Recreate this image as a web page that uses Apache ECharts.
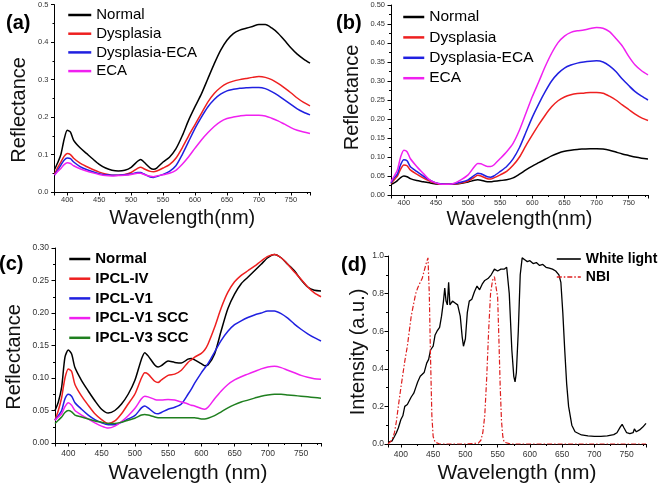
<!DOCTYPE html>
<html><head><meta charset="utf-8">
<script src="https://cdn.jsdelivr.net/npm/echarts@6/dist/echarts.min.js"></script>
<style>html,body{margin:0;padding:0;background:#fff}#c{width:660px;height:488px}</style>
</head><body><div id="c"></div>
<script>
// ---------- data ----------
const WL_AB = [380,385,390,395,400,405,410,420,430,440,450,460,470,480,490,500,510,515,520,530,535,540,550,560,570,580,590,600,610,620,630,640,650,660,670,680,690,700,710,720,730,740,750,760,770,780];

const A_NORMAL = [0.060,0.078,0.100,0.140,0.165,0.160,0.138,0.118,0.103,0.088,0.074,0.064,0.058,0.056,0.058,0.066,0.082,0.087,0.080,0.064,0.061,0.064,0.080,0.093,0.115,0.150,0.192,0.228,0.262,0.302,0.342,0.378,0.405,0.423,0.432,0.437,0.442,0.447,0.447,0.438,0.424,0.405,0.385,0.368,0.355,0.344];
const A_DYSP = [0.048,0.065,0.080,0.095,0.103,0.100,0.090,0.077,0.068,0.060,0.053,0.048,0.045,0.045,0.047,0.052,0.063,0.066,0.062,0.055,0.054,0.056,0.064,0.073,0.090,0.118,0.150,0.180,0.210,0.240,0.263,0.279,0.290,0.296,0.300,0.303,0.306,0.308,0.306,0.300,0.290,0.278,0.265,0.251,0.239,0.230];
const A_DYSP_ECA = [0.045,0.058,0.072,0.085,0.091,0.089,0.080,0.068,0.060,0.054,0.049,0.046,0.045,0.045,0.046,0.048,0.052,0.052,0.048,0.040,0.039,0.041,0.047,0.055,0.070,0.100,0.135,0.170,0.200,0.227,0.247,0.261,0.270,0.274,0.277,0.278,0.279,0.279,0.276,0.268,0.258,0.246,0.234,0.222,0.213,0.206];
const A_ECA = [0.045,0.055,0.063,0.073,0.078,0.076,0.070,0.062,0.056,0.051,0.047,0.044,0.043,0.044,0.045,0.047,0.050,0.050,0.047,0.042,0.041,0.043,0.046,0.050,0.058,0.074,0.094,0.117,0.139,0.158,0.175,0.188,0.196,0.200,0.203,0.205,0.205,0.205,0.203,0.197,0.190,0.181,0.172,0.165,0.160,0.156];

const B_NORMAL = [0.028,0.032,0.038,0.046,0.050,0.048,0.043,0.038,0.035,0.032,0.029,0.028,0.028,0.029,0.031,0.034,0.039,0.040,0.039,0.035,0.035,0.036,0.038,0.040,0.045,0.055,0.066,0.076,0.085,0.094,0.103,0.110,0.115,0.118,0.120,0.121,0.122,0.122,0.121,0.118,0.113,0.108,0.104,0.100,0.097,0.095];
const B_DYSP = [0.030,0.040,0.050,0.068,0.079,0.077,0.066,0.055,0.045,0.037,0.031,0.028,0.028,0.029,0.032,0.037,0.047,0.052,0.050,0.043,0.042,0.045,0.053,0.062,0.078,0.100,0.130,0.158,0.185,0.210,0.232,0.248,0.258,0.264,0.267,0.268,0.270,0.270,0.268,0.260,0.250,0.237,0.225,0.213,0.203,0.196];
const B_DYSP_ECA = [0.032,0.045,0.055,0.080,0.093,0.090,0.075,0.062,0.050,0.040,0.032,0.029,0.028,0.030,0.034,0.040,0.052,0.057,0.056,0.048,0.047,0.050,0.062,0.075,0.095,0.125,0.165,0.205,0.240,0.272,0.300,0.320,0.334,0.342,0.347,0.350,0.352,0.353,0.350,0.340,0.325,0.305,0.288,0.272,0.260,0.250];
const B_ECA = [0.035,0.050,0.066,0.100,0.118,0.114,0.096,0.075,0.057,0.040,0.032,0.028,0.028,0.032,0.041,0.053,0.075,0.083,0.082,0.075,0.075,0.079,0.096,0.114,0.136,0.171,0.215,0.259,0.298,0.338,0.373,0.401,0.418,0.428,0.432,0.434,0.438,0.441,0.439,0.430,0.412,0.392,0.365,0.342,0.327,0.316];

const WL_C = [380,385,390,395,400,405,410,420,430,440,450,460,470,480,490,500,510,515,520,530,535,540,550,560,570,580,585,590,600,605,610,620,630,640,650,660,670,680,690,700,710,720,730,740,750,760,770,780];
const C_NORMAL = [0.050,0.063,0.086,0.132,0.143,0.137,0.116,0.096,0.080,0.065,0.052,0.046,0.050,0.060,0.075,0.096,0.129,0.139,0.134,0.120,0.117,0.119,0.126,0.124,0.123,0.129,0.130,0.128,0.122,0.119,0.120,0.137,0.173,0.207,0.229,0.245,0.255,0.265,0.275,0.285,0.290,0.285,0.275,0.265,0.251,0.240,0.235,0.234];
const C_IPCL_IV = [0.035,0.050,0.070,0.100,0.114,0.110,0.090,0.072,0.058,0.045,0.036,0.030,0.034,0.045,0.060,0.075,0.100,0.108,0.106,0.095,0.093,0.097,0.104,0.106,0.112,0.124,0.128,0.132,0.138,0.143,0.152,0.178,0.208,0.232,0.248,0.258,0.265,0.272,0.280,0.287,0.290,0.285,0.275,0.263,0.252,0.240,0.231,0.225];
const C_IPCL_V1 = [0.035,0.042,0.050,0.068,0.075,0.072,0.062,0.052,0.043,0.036,0.031,0.028,0.028,0.032,0.037,0.042,0.054,0.057,0.054,0.046,0.045,0.047,0.052,0.055,0.060,0.075,0.083,0.092,0.108,0.115,0.122,0.140,0.158,0.172,0.182,0.188,0.193,0.197,0.200,0.203,0.203,0.199,0.192,0.183,0.175,0.168,0.162,0.157];
const C_IPCL_V1_SCC = [0.035,0.040,0.045,0.056,0.062,0.058,0.050,0.043,0.037,0.031,0.026,0.023,0.026,0.033,0.042,0.053,0.068,0.072,0.071,0.067,0.066,0.066,0.067,0.066,0.063,0.060,0.058,0.057,0.053,0.052,0.055,0.068,0.080,0.090,0.097,0.102,0.106,0.110,0.114,0.117,0.118,0.116,0.112,0.108,0.104,0.101,0.099,0.098];
const C_IPCL_V3_SCC = [0.030,0.035,0.040,0.047,0.050,0.048,0.043,0.040,0.037,0.034,0.032,0.030,0.030,0.032,0.035,0.038,0.043,0.044,0.043,0.040,0.039,0.039,0.039,0.039,0.039,0.039,0.039,0.039,0.037,0.037,0.038,0.042,0.048,0.054,0.059,0.063,0.066,0.069,0.072,0.074,0.075,0.075,0.074,0.073,0.072,0.071,0.070,0.069];

const WL_WHITE = [380,383,386,390,393,396,400,403,406,410,413,416,420,423,426,430,433,436,440,443,446,450,453,456,460,463,466,468,470,472,474,476,480,484,488,492,495,497,500,503,506,510,514,518,522,526,530,535,540,545,550,555,560,564,568,572,575,577,579,582,585,588,592,596,600,605,610,615,620,625,630,635,640,645,648,651,654,657,660,665,670,680,690,700,710,720,730,735,740,743,746,750,755,760,762,765,770,775,780];
const D_WHITE = [0.010,0.020,0.015,0.040,0.060,0.085,0.130,0.150,0.200,0.210,0.230,0.250,0.270,0.300,0.330,0.360,0.370,0.380,0.430,0.450,0.500,0.520,0.580,0.600,0.620,0.680,0.760,0.830,0.760,0.740,0.860,0.740,0.760,0.750,0.740,0.680,0.570,0.520,0.560,0.700,0.760,0.770,0.810,0.840,0.820,0.850,0.870,0.880,0.900,0.930,0.920,0.930,0.930,0.940,0.800,0.500,0.360,0.330,0.380,0.600,0.900,0.990,0.980,0.970,0.975,0.960,0.965,0.950,0.955,0.940,0.935,0.930,0.920,0.900,0.860,0.700,0.500,0.320,0.200,0.100,0.065,0.048,0.043,0.041,0.041,0.043,0.050,0.060,0.090,0.105,0.085,0.060,0.055,0.060,0.080,0.065,0.075,0.090,0.110];

const WL_NBI = [380,383,386,390,393,396,400,403,406,410,413,416,420,423,426,430,433,436,440,442,444,446,448,450,453,456,460,480,500,520,524,527,530,533,536,539,542,545,548,550,552,554,556,558,560,570,600,650,700,750,780];
const D_NBI = [0.000,0.010,0.020,0.060,0.120,0.200,0.300,0.370,0.440,0.520,0.600,0.680,0.750,0.800,0.830,0.860,0.880,0.920,0.970,0.990,0.800,0.450,0.150,0.040,0.010,0.005,0.000,0.000,0.000,0.005,0.020,0.060,0.150,0.350,0.600,0.800,0.870,0.890,0.880,0.780,0.550,0.300,0.120,0.040,0.010,0.000,0.000,0.000,0.000,0.000,0.000];

const LEG_AB = ['Normal','Dysplasia','Dysplasia-ECA','ECA'];
const LEG_C = ['Normal','IPCL-IV','IPCL-V1','IPCL-V1 SCC','IPCL-V3 SCC'];
const LEG_D = ['White light','NBI'];

// ---------- styling ----------
const FONT = 'Liberation Sans, Arial, sans-serif';
const BLACK = '#000000', RED = '#ee2020', BLUE = '#2020e0', MAG = '#f020f0', GREEN = '#1f7f1f', DRED = '#dd1f1f';

function pairs(x, y) { return x.map((v, i) => [v, y[i]]); }

function xAx(gi, o) {
  return {
    type: 'value', gridIndex: gi, min: 380, max: 780, splitNumber: 8,
    name: o.name, nameLocation: 'middle', nameGap: o.nameGap,
    nameTextStyle: {fontFamily: FONT, fontSize: o.nameSize, color: '#111'},
    axisLine: {show: true, onZero: false, lineStyle: {color: '#000', width: 1}},
    axisTick: {show: true, inside: false, length: 3.5, lineStyle: {color: '#000'}},
    minorTick: {show: true, splitNumber: 2, length: 2, lineStyle: {color: '#000'}},
    splitLine: {show: false}, minorSplitLine: {show: false},
    axisLabel: {fontFamily: FONT, fontSize: o.labelSize, color: '#333', margin: o.margin,
      formatter: v => (v % 50 === 0 ? String(v) : '')}
  };
}
function yAx(gi, o) {
  return {
    type: 'value', gridIndex: gi, min: 0, max: o.max, interval: o.interval,
    name: o.name, nameLocation: 'middle', nameGap: o.nameGap,
    nameTextStyle: {fontFamily: FONT, fontSize: o.nameSize, color: '#111', padding: o.pad || 0},
    axisLine: {show: true, onZero: false, lineStyle: {color: '#000', width: 1}},
    axisTick: {show: true, inside: false, length: 3.5, lineStyle: {color: '#000'}},
    minorTick: {show: true, splitNumber: 2, length: 2, lineStyle: {color: '#000'}},
    splitLine: {show: false}, minorSplitLine: {show: false},
    axisLabel: {fontFamily: FONT, fontSize: o.labelSize, color: '#333', margin: o.margin,
      formatter: v => v.toFixed(o.dec)}
  };
}
function ln(gi, name, xs, ys, color, width, type) {
  return {
    type: 'line', name: name, xAxisIndex: gi, yAxisIndex: gi, data: pairs(xs, ys),
    symbol: 'none', smooth: type ? false : 0.25, animation: false,
    lineStyle: {color: color, width: width, type: type || 'solid'}, itemStyle: {color: color}
  };
}
function leg(o) {
  return {
    orient: 'vertical', left: o.left, top: o.top, padding: 0,
    itemWidth: o.iw, itemHeight: 12, itemGap: o.gap, data: o.data,
    selectedMode: false,
    itemStyle: {opacity: 0},
    lineStyle: {width: o.lw},
    textStyle: {fontFamily: FONT, fontSize: o.fs, fontWeight: o.bold ? 'bold' : 'normal', color: '#000', lineHeight: 15}
  };
}
function ttl(text, left, top) {
  return {text: text, left: left, top: top, padding: 0,
    textStyle: {fontFamily: FONT, fontSize: 20, fontWeight: 'bold', color: '#000'}};
}

const chart = echarts.init(document.getElementById('c'), null, {renderer: 'canvas'});
chart.setOption({
  backgroundColor: '#fff',
  animation: false,
  title: [ttl('(a)', 6, 13), ttl('(b)', 336, 13), ttl('(c)', -1, 254), ttl('(d)', 341, 255)],
  grid: [
    {left: 54.5, top: 4.7, width: 255.5, height: 187.3},
    {left: 391, top: 5, width: 257, height: 190},
    {left: 55, top: 248, width: 266, height: 195},
    {left: 388, top: 256, width: 258, height: 188}
  ],
  xAxis: [
    xAx(0, {name: 'Wavelength(nm)', nameGap: 16, nameSize: 20, labelSize: 7.5, margin: 4}),
    xAx(1, {name: 'Wavelength(nm)', nameGap: 14, nameSize: 20, labelSize: 7.5, margin: 4}),
    xAx(2, {name: 'Wavelength (nm)', nameGap: 20, nameSize: 21, labelSize: 8.5, margin: 6}),
    xAx(3, {name: 'Wavelength (nm)', nameGap: 19, nameSize: 21, labelSize: 8.5, margin: 6})
  ],
  yAxis: [
    yAx(0, {name: 'Reflectance', max: 0.5, interval: 0.1, dec: 1, nameGap: 25.5, nameSize: 20, labelSize: 7.5, margin: 6, pad: [0, 23, 0, 0]}),
    yAx(1, {name: 'Reflectance', max: 0.5, interval: 0.05, dec: 2, nameGap: 29, nameSize: 20, labelSize: 7.5, margin: 6, pad: [0, 0, 0, 5]}),
    yAx(2, {name: 'Reflectance', max: 0.3, interval: 0.05, dec: 2, nameGap: 31, nameSize: 20, labelSize: 8.5, margin: 6, pad: [0, 23, 0, 0]}),
    yAx(3, {name: 'Intensity (a.u.)', max: 1.0, interval: 0.2, dec: 1, nameGap: 20, nameSize: 20, labelSize: 8.5, margin: 4, pad: [0, 4, 0, 0]})
  ],
  legend: [
    leg({left: 67, top: 7.5, iw: 23, gap: 3.7, fs: 15, lw: 2.5, data: LEG_AB}),
    leg({left: 402, top: 9, iw: 21, gap: 4.4, fs: 15.5, lw: 2.5, data: LEG_AB}),
    leg({left: 68, top: 251.5, iw: 21, gap: 4.7, fs: 15, lw: 2.5, bold: true, data: LEG_C}),
    leg({left: 556, top: 251.5, iw: 24, gap: 3, fs: 14, lw: 1.6, bold: true, data: LEG_D})
  ],
  series: [
    ln(0, 'Normal', WL_AB, A_NORMAL, BLACK, 1.5),
    ln(0, 'Dysplasia', WL_AB, A_DYSP, RED, 1.5),
    ln(0, 'Dysplasia-ECA', WL_AB, A_DYSP_ECA, BLUE, 1.5),
    ln(0, 'ECA', WL_AB, A_ECA, MAG, 1.5),
    ln(1, 'Normal', WL_AB, B_NORMAL, BLACK, 1.5),
    ln(1, 'Dysplasia', WL_AB, B_DYSP, RED, 1.5),
    ln(1, 'Dysplasia-ECA', WL_AB, B_DYSP_ECA, BLUE, 1.5),
    ln(1, 'ECA', WL_AB, B_ECA, MAG, 1.5),
    ln(2, 'Normal', WL_C, C_NORMAL, BLACK, 1.5),
    ln(2, 'IPCL-IV', WL_C, C_IPCL_IV, RED, 1.5),
    ln(2, 'IPCL-V1', WL_C, C_IPCL_V1, BLUE, 1.5),
    ln(2, 'IPCL-V1 SCC', WL_C, C_IPCL_V1_SCC, MAG, 1.5),
    ln(2, 'IPCL-V3 SCC', WL_C, C_IPCL_V3_SCC, GREEN, 1.5),
    ln(3, 'White light', WL_WHITE, D_WHITE, BLACK, 1.3, 'solid'),
    ln(3, 'NBI', WL_NBI, D_NBI, DRED, 1.2, [5, 2, 1.5, 2])
  ]
});
</script>
</body></html>
